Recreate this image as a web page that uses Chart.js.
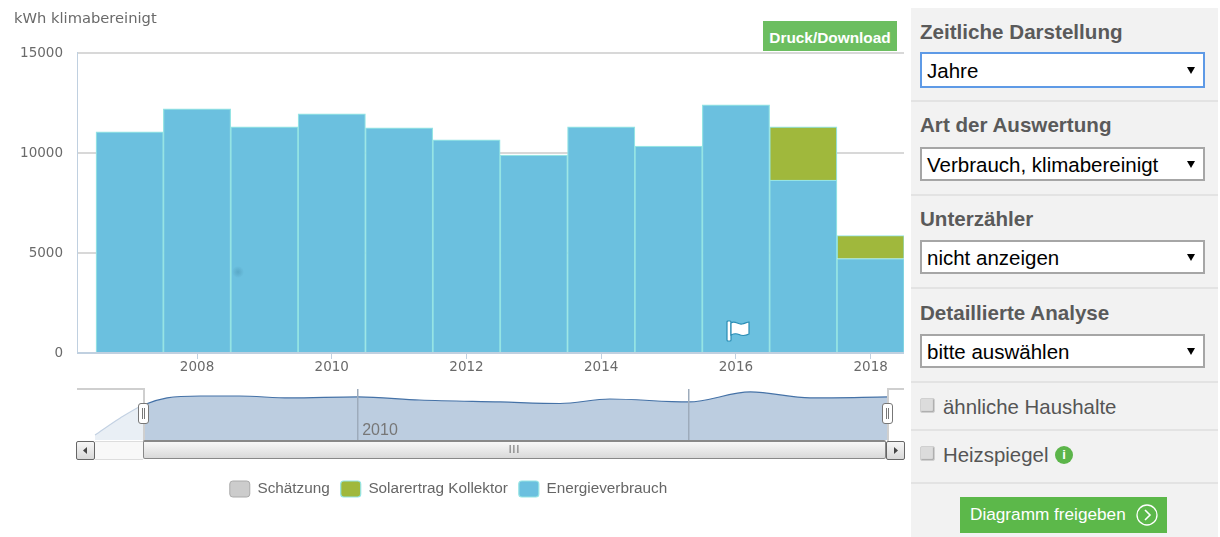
<!DOCTYPE html>
<html lang="de">
<head>
<meta charset="utf-8">
<title>Verbrauch klimabereinigt</title>
<script src="https://cdn.jsdelivr.net/npm/chart.js@4"></script>
<style>
  html, body { margin: 0; padding: 0; width: 1220px; height: 537px; overflow: hidden; background: #fff; font-family: "Liberation Sans", Arial, sans-serif; }
  .abs { position: absolute; }
  #grafico { position: absolute; left: 0; top: 0; }
  #navegador { position: absolute; left: 77px; top: 389px; }
  #druck { left: 763px; top: 21px; width: 134px; height: 30px; background: #6cbe60; color: #fff; font-weight: bold; font-size: 15.4px; line-height: 34px; text-align: center; }
  .rahmen { background: #cfcfcf; }
  .griff { width: 9px; height: 19px; background: #fff; border: 1px solid #777; border-radius: 3px; top: 403px; }
  .griff::after { content: ""; position: absolute; left: 3px; top: 4px; width: 1px; height: 11px; border-left: 1px solid #777; border-right: 1px solid #777; }
  .knopf { top: 441px; width: 17px; height: 17px; border: 1px solid #666; border-radius: 2px; background: linear-gradient(#f6f6f6, #d8d8d8); }
  #spur { left: 95px; top: 441px; width: 48px; height: 17px; background: #f8f8f8; border-top: 1px solid #ddd; border-bottom: 1px solid #ddd; }
  #balken { left: 143px; top: 440px; width: 741px; height: 16px; border: 1px solid #888; border-top-width: 2px; border-radius: 2px; background: linear-gradient(#f8f8f8, #d9d9d9); color: #666; font-size: 10px; line-height: 16px; text-align: center; letter-spacing: 1px; }
  #punkt { left: 232px; top: 266px; width: 12px; height: 12px; border-radius: 50%; background: radial-gradient(circle, rgba(70,140,170,.45) 0, rgba(70,140,170,0) 70%); }

  #seite { left: 911px; top: 8px; width: 307px; height: 529px; background: #f2f2f2; color: #555; }
  .abschnitt { position: absolute; left: 0; width: 307px; border-bottom: 2px solid #e3e3e3; box-sizing: border-box; }
  .titel { position: absolute; left: 9px; font-size: 20.6px; font-weight: bold; line-height: 24px; color: #5a5a5a; }
  .auswahl { position: absolute; left: 9px; width: 285px; height: 34px; box-sizing: border-box; background: #fff; border: 2px solid #a6a6a6; color: #000; font-size: 20.5px; line-height: 32px; padding-left: 5px; }
  .auswahl.aktiv { border-color: #5e9ae6; height: 36px; line-height: 34px; }
  .auswahl::after { content: ""; position: absolute; right: 8px; top: 50%; margin-top: -3px; border-left: 4px solid transparent; border-right: 4px solid transparent; border-top: 7px solid #000; }
  .pruef { position: absolute; left: 9px; width: 13px; height: 13px; background: #dcdcdc; border: 1px solid #d0d0d0; border-radius: 2px; box-shadow: inset -1px -1px 1px #aaa; }
  .marke { position: absolute; left: 32px; font-size: 20.4px; line-height: 24px; color: #555; }
  #info { position: absolute; left: 144px; top: 438px; width: 18px; height: 18px; border-radius: 50%; background: #5cb54a; color: #fff; font-size: 13px; font-weight: bold; line-height: 18px; text-align: center; }
  #freigeben { position: absolute; left: 49px; top: 489px; width: 207px; height: 36px; background: #5cb84a; color: #fff; font-size: 17.2px; line-height: 34px; padding-left: 10px; box-sizing: border-box; }
  #freigeben svg { position: absolute; left: 176px; top: 7px; }
</style>
</head>
<body>
<canvas id="grafico" width="904" height="505"></canvas>
<canvas id="navegador" width="827" height="51"></canvas>

<div id="druck" class="abs">Druck/Download</div>
<div id="punkt" class="abs"></div>
<svg class="abs" style="left:725px;top:319px" width="26" height="24" viewBox="0 0 26 24">
  <rect x="2" y="2" width="4" height="20" rx="1" fill="#fff" stroke="#2a8db5" stroke-width="1.2"/>
  <path d="M6 4 C10 1 13 6 17 5 C20 4.500 22 3 24 3 L24 15 C20 17 17 17 14 15.500 C11 14 8 15 6 16 Z" fill="#fff" stroke="#2a8db5" stroke-width="1.2"/>
</svg>

<div class="abs rahmen" style="left:77px;top:388px;width:67px;height:2px"></div>
<div class="abs rahmen" style="left:143px;top:388px;width:2px;height:53px"></div>
<div class="abs rahmen" style="left:887px;top:388px;width:17px;height:2px"></div>
<div class="abs rahmen" style="left:887px;top:388px;width:2px;height:53px"></div>
<div class="abs griff" style="left:138px"></div>
<div class="abs griff" style="left:882px"></div>
<div id="spur" class="abs"></div>
<div id="balken" class="abs">III</div>
<div class="abs knopf" style="left:76px"><svg width="17" height="17"><path d="M10 5 L6 8.500 L10 12 Z" fill="#444"/></svg></div>
<div class="abs knopf" style="left:886px"><svg width="17" height="17"><path d="M7 5 L11 8.500 L7 12 Z" fill="#444"/></svg></div>

<div id="seite" class="abs">
  <div class="abschnitt" style="top:0;height:94px"></div>
  <div class="titel" style="top:12px">Zeitliche Darstellung</div>
  <div class="auswahl aktiv" style="top:44px">Jahre</div>
  <div class="abschnitt" style="top:94px;height:94px"></div>
  <div class="titel" style="top:105px">Art der Auswertung</div>
  <div class="auswahl" style="top:139px">Verbrauch, klimabereinigt</div>
  <div class="abschnitt" style="top:188px;height:93px"></div>
  <div class="titel" style="top:199px">Unterzähler</div>
  <div class="auswahl" style="top:232px">nicht anzeigen</div>
  <div class="abschnitt" style="top:281px;height:94px"></div>
  <div class="titel" style="top:293px">Detaillierte Analyse</div>
  <div class="auswahl" style="top:326px">bitte auswählen</div>
  <div class="abschnitt" style="top:375px;height:48px"></div>
  <div class="pruef" style="top:390px"></div>
  <div class="marke" style="top:387px">ähnliche Haushalte</div>
  <div class="abschnitt" style="top:423px;height:53px"></div>
  <div class="pruef" style="top:438px"></div>
  <div class="marke" style="top:435px">Heizspiegel</div>
  <div id="info" style="top:438px">i</div>
  <div id="freigeben" style="top:489px">Diagramm freigeben
    <svg width="22" height="22" viewBox="0 0 22 22"><circle cx="11" cy="11" r="10" fill="none" stroke="#fff" stroke-width="1.300"/><path d="M9 6 L14 11 L9 16" fill="none" stroke="#fff" stroke-width="1.600"/></svg>
  </div>
</div>

<script>
const anos = [2007, 2008, 2009, 2010, 2011, 2012, 2013, 2014, 2015, 2016, 2017, 2018];
const energieverbrauch = [11040, 12190, 11290, 11940, 11240, 10640, 9880, 11290, 10330, 12390, 8630, 4715];
const solarertrag = [null, null, null, null, null, null, null, null, null, null, 2660, 1155];
const schaetzung = [];

const ticksX = [2008, 2010, 2012, 2014, 2016, 2018];
const ticksY = [0, 5000, 10000, 15000];

// curva do navegador
const navAnos = [2007, 2007.35, 2007.67, 2008, 2008.46, 2009, 2009.7, 2010.65, 2011.5, 2012.62, 2013.45, 2014.14, 2015.23, 2016.09, 2016.92, 2018];
const navValores = [1350, 5960, 9480, 11375, 11900, 11900, 11375, 11650, 10830, 10290, 9880, 11100, 10290, 13000, 11375, 11650];
const navTicks = [2010.65, 2015.23];
const navTicksTexto = ["2010", ""];
const navInicio = 2007.67;

const corTexto = "#6a6a6a";
const corEixo = "#c0d0e0";
const fonteEixo = "'DejaVu Sans', sans-serif";

const posicionaLegenda = {
  id: "posicionaLegenda",
  afterLayout(chart) {
    const l = chart.legend;
    const h = l.bottom - l.top;
    l.top = 470;
    l.bottom = 470 + h;
    l.left -= 10.5;
    l.right -= 10.5;
  }
};

function pontos(valores) {
  return anos.map((a, i) => ({ x: a, y: valores[i] }));
}

new Chart(document.getElementById("grafico"), {
  type: "bar",
  data: {
    datasets: [
      { label: "Energieverbrauch", data: pontos(energieverbrauch), backgroundColor: "#6bc0df", borderColor: "#95e4e4", borderWidth: 1.2, barPercentage: 1, categoryPercentage: 1 },
      { label: "Solarertrag Kollektor", data: pontos(solarertrag), backgroundColor: "#a0b83c", borderColor: "#95e4e4", borderWidth: 1.2, barPercentage: 1, categoryPercentage: 1 },
      { label: "Schätzung", data: schaetzung, backgroundColor: "#cccccc", borderColor: "#aaaaaa", borderWidth: 1, barPercentage: 1, categoryPercentage: 1 }
    ]
  },
  options: {
    responsive: false,
    animation: false,
    layout: { padding: { bottom: 91, left: 14 } },
    plugins: {
      tooltip: { enabled: false },
      title: {
        display: true,
        text: "kWh klimabereinigt",
        align: "start",
        color: corTexto,
        font: { family: fonteEixo, size: 14.7, weight: "normal" },
        padding: { top: 10, bottom: 25 }
      },
      legend: {
        position: "bottom",
        reverse: true,
        labels: {
          boxWidth: 20,
          boxHeight: 16,
          padding: 11,
          useBorderRadius: true,
          borderRadius: 3,
          color: "#666",
          font: { family: "'Liberation Sans', Arial, sans-serif", size: 15.3 }
        }
      }
    },
    scales: {
      x: {
        type: "linear",
        stacked: true,
        offset: false,
        min: 2006.218,
        max: 2018.495,
        afterBuildTicks: s => { s.ticks = ticksX.map(v => ({ value: v })); },
        afterFit: s => { s.height = 24; },
        border: { color: corEixo },
        grid: { offset: false, drawOnChartArea: false, tickColor: corEixo, tickLength: 6 },
        ticks: { autoSkip: false, maxRotation: 0, padding: 0, color: corTexto, font: { family: fonteEixo, size: 13.5 }, callback: v => String(v) }
      },
      y: {
        stacked: true,
        min: 0,
        max: 15000,
        afterBuildTicks: s => { s.ticks = ticksY.map(v => ({ value: v })); },
        afterFit: s => { s.width = 63; },
        border: { color: corEixo },
        grid: { drawTicks: false, lineWidth: 2, color: c => c.tick && c.tick.value === 0 ? corEixo : "#d8d8d8" },
        ticks: { padding: 14, labelOffset: 0.5, color: corTexto, font: { family: fonteEixo, size: 13.5 }, callback: v => String(v) }
      }
    }
  },
  plugins: [posicionaLegenda]
});

// parte fora da janela selecionada fica mais clara
const veuNavegador = {
  id: "veuNavegador",
  afterDraw(chart) {
    const { ctx, chartArea, scales } = chart;
    ctx.save();
    ctx.fillStyle = "rgba(255,255,255,0.68)";
    ctx.fillRect(chartArea.left, chartArea.top, scales.x.getPixelForValue(navInicio) - chartArea.left, chartArea.bottom - chartArea.top);
    ctx.restore();
  }
};

new Chart(document.getElementById("navegador"), {
  type: "line",
  data: {
    datasets: [{
      data: navAnos.map((a, i) => ({ x: a, y: navValores[i] })),
      borderColor: "#4572a7",
      borderWidth: 1.2,
      backgroundColor: "#bccde0",
      fill: "origin",
      pointRadius: 0,
      cubicInterpolationMode: "monotone"
    }]
  },
  options: {
    responsive: false,
    animation: false,
    plugins: { legend: { display: false }, tooltip: { enabled: false } },
    scales: {
      x: {
        type: "linear",
        min: 2006.75,
        max: 2018.22,
        afterBuildTicks: s => { s.ticks = navTicks.map(v => ({ value: v })); },
        afterFit: s => { s.height = 0; },
        border: { display: false },
        grid: { z: 1, drawTicks: false, color: "#9dabbb", lineWidth: 1.5 },
        ticks: {
          z: 1,
          mirror: true,
          autoSkip: false,
          maxRotation: 0,
          align: "start",
          labelOffset: 4,
          padding: 0,
          color: "#777",
          font: { family: "'Liberation Sans', Arial, sans-serif", size: 16 },
          callback: (v, i) => navTicksTexto[i]
        }
      },
      y: { display: false, min: 0, max: 13800 }
    }
  },
  plugins: [veuNavegador]
});
</script>
</body>
</html>
